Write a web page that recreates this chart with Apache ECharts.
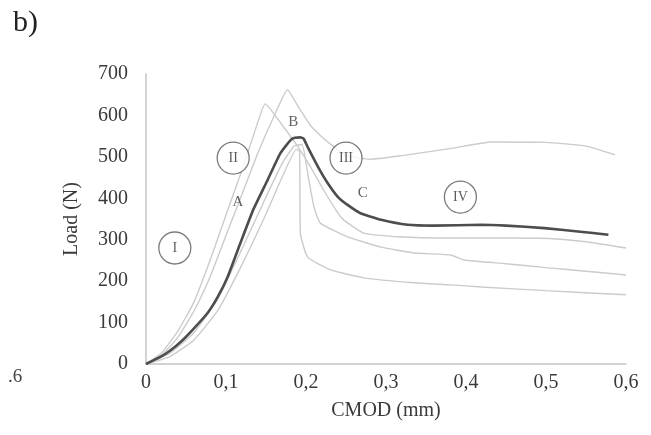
<!DOCTYPE html>
<html>
<head>
<meta charset="utf-8">
<script src="https://cdn.jsdelivr.net/npm/echarts@6/dist/echarts.min.js"></script>
<style>
  html, body { margin: 0; padding: 0; background: #fff; }
  #chart { width: 651px; height: 435px; }
</style>
</head>
<body>
<div id="chart"></div>
<script>
// Load–CMOD curves of the tested specimens (light) and their mean response (dark)
const yTicks = [0, 100, 200, 300, 400, 500, 600, 700];
const xTicks = [0, 0.1, 0.2, 0.3, 0.4, 0.5, 0.6];

const specimen1 = [[0,0],[0.02,28],[0.04,80],[0.06,150],[0.08,250],[0.10,360],[0.12,468],[0.14,585],[0.149,628],
  [0.172,572],[0.19,524],[0.208,468],[0.222,420],[0.24,364],[0.247,348],[0.272,316],[0.315,307],
  [0.381,304],[0.45,304],[0.503,303],[0.55,295],[0.60,280]];
const specimen2 = [[0,0],[0.02,22],[0.04,65],[0.06,128],[0.08,210],[0.10,310],[0.12,410],[0.14,510],[0.16,598],[0.177,662],
  [0.19,622],[0.206,575],[0.22,548],[0.235,524],[0.25,503],[0.28,494],[0.32,503],[0.38,520],
  [0.432,536],[0.50,535],[0.55,526],[0.586,505]];
const specimen3 = [[0,0],[0.03,26],[0.06,76],[0.09,158],[0.12,278],[0.15,403],[0.17,483],[0.185,526],[0.195,530],
  [0.203,450],[0.21,379],[0.218,340],[0.252,307],[0.294,282],[0.335,268],[0.381,263],[0.398,251],
  [0.45,242],[0.503,232],[0.55,224],[0.60,215]];
const specimen4 = [[0,0],[0.03,18],[0.06,58],[0.09,130],[0.12,240],[0.15,362],[0.17,450],[0.188,518],[0.192,514],
  [0.193,316],[0.202,258],[0.231,227],[0.272,208],[0.335,196],[0.381,191],[0.419,186],[0.50,177],[0.60,167]];
const meanCurve = [[0,0],[0.018,17],[0.03,32],[0.046,58],[0.06,86],[0.077,123],[0.09,163],[0.102,210],[0.118,292],
  [0.134,372],[0.152,444],[0.168,509],[0.181,541],[0.186,546],[0.193,547],[0.197,544],[0.202,524],[0.215,476],
  [0.227,437],[0.24,403],[0.252,384],[0.268,364],[0.294,348],[0.327,336],[0.36,334],[0.419,336],[0.45,334],
  [0.498,328],[0.54,320],[0.578,312]];

// Stage markers (circled) and point markers (plain letters)
const stageLabels = ['I', 'II', 'III', 'IV'];
const stagePos = [[0.036, 280], [0.109, 497], [0.25, 497], [0.393, 403]];
const pointLabels = ['A', 'B', 'C'];
const pointPos = [[0.115, 391], [0.184, 583], [0.271, 413]];

const serif = 'Liberation Serif';
const lightStyle = { color: '#cbcbcb', width: 1.4 };

const lightSeries = [specimen1, specimen2, specimen3, specimen4].map((d) => ({
  type: 'line', data: d, showSymbol: false, smooth: 0.15,
  lineStyle: lightStyle, z: 2, silent: true
}));

const chart = echarts.init(document.getElementById('chart'), null, { renderer: 'canvas' });
chart.setOption({
  animation: false,
  backgroundColor: '#ffffff',
  grid: { left: 146, right: 25, top: 74, bottom: 71, containLabel: false },
  xAxis: {
    type: 'value', min: 0, max: 0.6, interval: 0.1,
    name: 'CMOD (mm)', nameLocation: 'middle', nameGap: 37,
    nameTextStyle: { fontFamily: serif, fontSize: 20, color: '#3a3a3a' },
    axisLine: { show: true, lineStyle: { color: '#c4c4c4', width: 1.5 } },
    axisTick: { show: false },
    splitLine: { show: false },
    axisLabel: {
      fontFamily: serif, fontSize: 20, color: '#3a3a3a', margin: 9,
      formatter: (v) => (xTicks.find((t) => Math.abs(t - v) < 1e-9) ?? v).toString().replace('.', ',')
    }
  },
  yAxis: {
    type: 'value', min: 0, max: 700, interval: 100,
    name: 'Load (N)', nameLocation: 'middle', nameGap: 64,
    nameTextStyle: { fontFamily: serif, fontSize: 20, color: '#3a3a3a' },
    axisLine: { show: true, lineStyle: { color: '#c4c4c4', width: 1.5 } },
    axisTick: { show: false },
    splitLine: { show: false },
    axisLabel: {
      fontFamily: serif, fontSize: 20, color: '#3a3a3a', margin: 18,
      formatter: (v) => String(yTicks.find((t) => t === v) ?? v)
    }
  },
  series: [
    ...lightSeries,
    {
      type: 'line', data: meanCurve, showSymbol: false, smooth: 0.15, z: 5,
      lineStyle: { color: '#4d4d4d', width: 2.6 }
    },
    {
      type: 'scatter', z: 6,
      data: stagePos.map((p, i) => ({ value: p, name: stageLabels[i] })),
      symbol: 'circle', symbolSize: 32,
      itemStyle: { color: '#ffffff', borderColor: '#5a5a5a', borderWidth: 1.3 },
      label: {
        show: true, position: 'inside', formatter: (p) => p.name,
        fontFamily: serif, fontSize: 14, color: '#333'
      }
    },
    {
      type: 'scatter', z: 6,
      data: pointPos.map((p, i) => ({ value: p, name: pointLabels[i] })),
      symbolSize: 0,
      label: {
        show: true, position: 'inside', formatter: (p) => p.name,
        fontFamily: serif, fontSize: 15, color: '#3a3a3a'
      }
    }
  ],
  graphic: [
    { type: 'text', left: 13, top: 8, style: { text: 'b)', font: '30px "Liberation Serif"', fill: '#222' } },
    { type: 'text', left: 8, top: 368, style: { text: '.6', font: '19px "Liberation Serif"', fill: '#444' } }
  ]
});
</script>
</body>
</html>
